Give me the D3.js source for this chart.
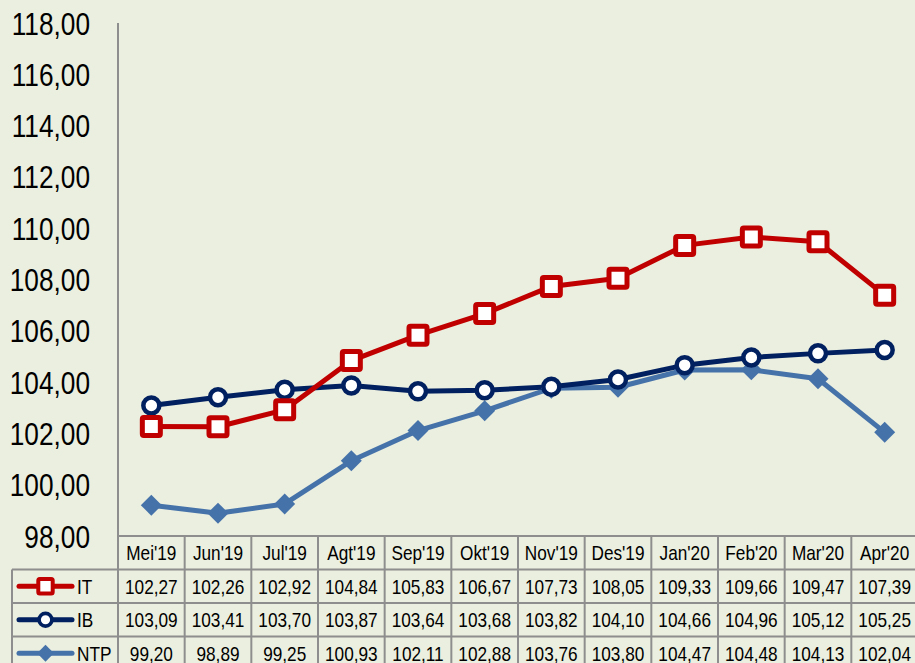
<!DOCTYPE html>
<html>
<head>
<meta charset="utf-8">
<script src="https://cdn.jsdelivr.net/npm/d3@7"></script>
<style>
  html, body { margin: 0; padding: 0; background: #ebefdf; }
  svg { display: block; font-family: "Liberation Sans", Arial, sans-serif; }
</style>
</head>
<body>
<div id="chart"></div>
<script>
const months = ["Mei'19", "Jun'19", "Jul'19", "Agt'19", "Sep'19", "Okt'19", "Nov'19", "Des'19", "Jan'20", "Feb'20", "Mar'20", "Apr'20"]
const itValues = [102.27, 102.26, 102.92, 104.84, 105.83, 106.67, 107.73, 108.05, 109.33, 109.66, 109.47, 107.39]
const ibValues = [103.09, 103.41, 103.70, 103.87, 103.64, 103.68, 103.82, 104.10, 104.66, 104.96, 105.12, 105.25]
const ntpValues = [99.20, 98.89, 99.25, 100.93, 102.11, 102.88, 103.76, 103.80, 104.47, 104.48, 104.13, 102.04]
const yTicks = [98, 100, 102, 104, 106, 108, 110, 112, 114, 116, 118]

const series = [
    { name: "IT", values: itValues, color: "#c00000", marker: "square" },
    { name: "IB", values: ibValues, color: "#002060", marker: "circle" },
    { name: "NTP", values: ntpValues, color: "#4672aa", marker: "diamond" }
]

const width = 915, height = 663
const fmt = v => d3.format(".2f")(v).replace(".", ",")
const gridColor = "#8e8e8e"
const narrow = 0.82 // simular Arial Narrow

const svg = d3.select("#chart").append("svg")
    .attr("width", width)
    .attr("height", height)

// Escalas
const x = d3.scaleBand().domain(months).range([118, 918])
const y = d3.scaleLinear().domain([98, 118]).range([536, 23])
const rowH = 33.5
const tableTop = y(98)
const legendLeft = 12

// Texto estrecho
function label(g, tx, ty, str, size, anchor = "middle") {
    return g.append("text")
        .attr("transform", `translate(${tx},${ty}) scale(${narrow},1)`)
        .attr("dy", "0.36em")
        .attr("text-anchor", anchor)
        .attr("font-size", size)
        .attr("fill", "#000")
        .text(str)
}

// Eje Y (solo línea y etiquetas)
svg.append("line")
    .attr("x1", x.range()[0]).attr("x2", x.range()[0])
    .attr("y1", y(118)).attr("y2", y(98))
    .attr("stroke", gridColor).attr("stroke-width", 2)

const yAxis = svg.append("g")
yTicks.forEach(t => label(yAxis, 90, y(t), fmt(t), 32, "end"))

// Series
const line = d3.line()
    .x((d, i) => x(months[i]) + x.bandwidth() / 2)
    .y(d => y(d))

const plot = svg.append("g")

series.slice().reverse().forEach(s => {
    plot.append("path")
        .datum(s.values)
        .attr("d", line)
        .attr("fill", "none")
        .attr("stroke", s.color)
        .attr("stroke-width", 5)
        .attr("stroke-linejoin", "round")
})

function drawMarker(g, s, cx, cy, scale = 1) {
    if (s.marker === "square") {
        g.append("rect")
            .attr("x", cx - 9 * scale).attr("y", cy - 9 * scale)
            .attr("width", 18 * scale).attr("height", 18 * scale)
            .attr("rx", 1.5)
            .attr("fill", "#fff")
            .attr("stroke", s.color)
            .attr("stroke-width", 5 * scale)
    } else if (s.marker === "circle") {
        g.append("circle")
            .attr("cx", cx).attr("cy", cy)
            .attr("r", 8 * scale)
            .attr("fill", "#fff")
            .attr("stroke", s.color)
            .attr("stroke-width", 4.5 * scale)
    } else {
        const r = 10.5 * scale
        g.append("path")
            .attr("d", `M${cx},${cy - r}L${cx + r},${cy}L${cx},${cy + r}L${cx - r},${cy}Z`)
            .attr("fill", s.color)
    }
}

series.slice().reverse().forEach(s => {
    s.values.forEach((v, i) => {
        drawMarker(plot, s, x(months[i]) + x.bandwidth() / 2, y(v))
    })
})

// Tabla de datos
const table = svg.append("g")

// Líneas horizontales
table.append("line")
    .attr("x1", x.range()[0]).attr("x2", width)
    .attr("y1", tableTop).attr("y2", tableTop)
    .attr("stroke", gridColor).attr("stroke-width", 2)

series.forEach((s, i) => {
    const yy = tableTop + rowH * (i + 1)
    table.append("line")
        .attr("x1", legendLeft).attr("x2", width)
        .attr("y1", yy).attr("y2", yy)
        .attr("stroke", gridColor).attr("stroke-width", 2)
})

// Líneas verticales
months.forEach(m => {
    table.append("line")
        .attr("x1", x(m)).attr("x2", x(m))
        .attr("y1", tableTop).attr("y2", height)
        .attr("stroke", gridColor).attr("stroke-width", 2)
})
table.append("line")
    .attr("x1", legendLeft).attr("x2", legendLeft)
    .attr("y1", tableTop + rowH).attr("y2", height)
    .attr("stroke", gridColor).attr("stroke-width", 2)

// Encabezados
months.forEach(m => label(table, x(m) + x.bandwidth() / 2, tableTop + rowH / 2, m, 21))

// Filas
series.forEach((s, i) => {
    const cy = tableTop + rowH * (i + 1) + rowH / 2
    const lg = table.append("g")
    lg.append("line")
        .attr("x1", 19).attr("x2", 72)
        .attr("y1", cy).attr("y2", cy)
        .attr("stroke", s.color).attr("stroke-width", 5)
        .attr("stroke-linecap", "round")
    drawMarker(lg, s, 45.5, cy, 0.8)
    label(lg, 77, cy, s.name, 21, "start")

    s.values.forEach((v, j) => label(table, x(months[j]) + x.bandwidth() / 2, cy, fmt(v), 21))
})
</script>
</body>
</html>
